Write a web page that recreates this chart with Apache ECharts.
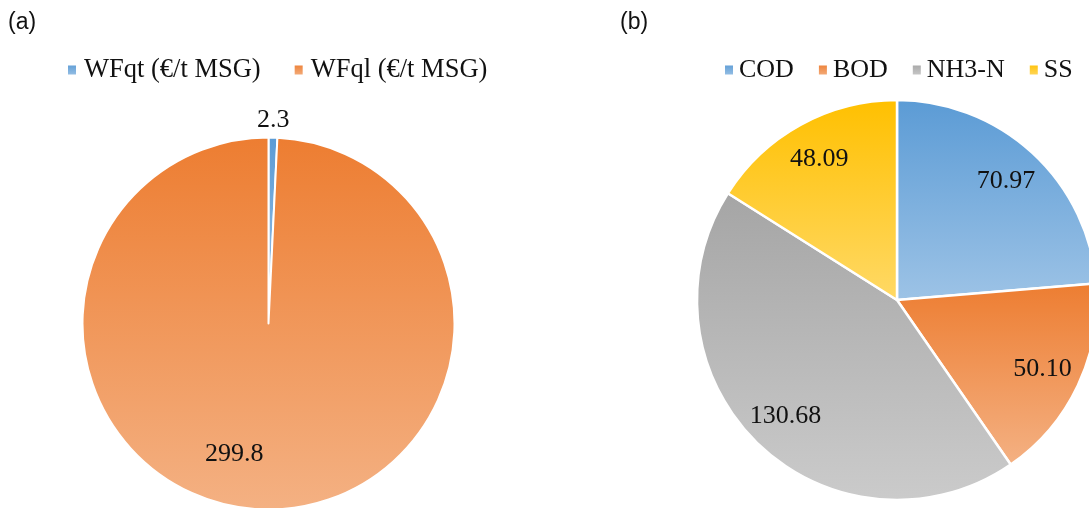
<!DOCTYPE html>
<html>
<head>
<meta charset="utf-8">
<script src="https://cdn.jsdelivr.net/npm/echarts@6/dist/echarts.min.js"></script>
<style>
html,body{margin:0;padding:0;background:#fff;}
#chart{width:1089px;height:508px;}
</style>
</head>
<body>
<div id="chart"></div>
<script>
// ---- data ----
const leftNames = ['WFqt (€/t MSG)', 'WFql (€/t MSG)'];
const leftValues = [2.3, 299.8];
const rightNames = ['COD', 'BOD', 'NH3-N', 'SS'];
const rightValues = [70.97, 50.10, 130.68, 48.09];
const panelLabels = ['(a)', '(b)'];

// ---- styles ----
const leftGrad = [['#5B9BD5', '#9DC3E6'], ['#ED7D31', '#F4B183']];
const rightGrad = [['#5B9BD5', '#9DC3E6'], ['#ED7D31', '#F4B183'], ['#A5A5A5', '#CBCBCB'], ['#FFC000', '#FFD966']];
const serif = 'Liberation Serif';

function grad(c) {
  return { type: 'linear', x: 0, y: 0, x2: 0, y2: 1, colorStops: [{ offset: 0, color: c[0] }, { offset: 1, color: c[1] }] };
}
const labelText = { fontFamily: serif, fontSize: 26, color: '#111' };
const clear = { color: 'rgba(0,0,0,0)', borderWidth: 0 };

const leftMain = leftNames.map((n, i) => ({ name: n, value: leftValues[i], itemStyle: { color: grad(leftGrad[i]) } }));
const rightMain = rightNames.map((n, i) => ({ name: n, value: rightValues[i], itemStyle: { color: grad(rightGrad[i]) } }));

const leftOuterLabels = leftNames.map((n, i) => ({ name: n, value: leftValues[i], label: { show: i === 0 } }));
const leftInnerLabels = leftNames.map((n, i) => ({ name: n, value: leftValues[i], label: { show: i === 1, padding: [0, 62, 0, 0] } }));
const rightLabels = rightNames.map((n, i) => ({ name: n, value: rightValues[i] }));

const basePie = {
  type: 'pie', startAngle: 90, clockwise: true, avoidLabelOverlap: false,
  animation: false, labelLine: { show: false }, emphasis: { disabled: true }
};

const chart = echarts.init(document.getElementById('chart'), null, { renderer: 'canvas' });
chart.setOption({
  backgroundColor: '#fff',
  animation: false,
  title: [
    { text: panelLabels[0], left: 8, top: 11, padding: 0, textStyle: { fontFamily: 'Liberation Sans', fontSize: 23, fontWeight: 'normal', color: '#111' } },
    { text: panelLabels[1], left: 620, top: 11, padding: 0, textStyle: { fontFamily: 'Liberation Sans', fontSize: 23, fontWeight: 'normal', color: '#111' } }
  ],
  legend: [
    { data: leftNames, left: 66, top: 55, padding: 0, itemGap: 32, itemWidth: 10, itemHeight: 11, icon: 'rect', selectedMode: false,
      textStyle: { fontFamily: serif, fontSize: 26.5, color: '#111', lineHeight: 30, padding: [0, 0, 0, 2] } },
    { data: rightNames, left: 723, top: 55, padding: 0, itemGap: 23, itemWidth: 10, itemHeight: 11, icon: 'rect', selectedMode: false,
      textStyle: { fontFamily: serif, fontSize: 26, color: '#111', lineHeight: 30 } }
  ],
  series: [
    Object.assign({}, basePie, { name: 'a', center: [268.5, 323.5], radius: [0, 186], label: { show: false },
      itemStyle: { borderColor: '#fff', borderWidth: 2 }, data: leftMain }),
    Object.assign({}, basePie, { name: 'b', center: [897, 300], radius: [0, 200], label: { show: false },
      itemStyle: { borderColor: '#fff', borderWidth: 2.5 }, data: rightMain }),
    Object.assign({}, basePie, { name: 'aLabOut', silent: true, center: [268.5, 323.5], radius: [186, 214], itemStyle: clear,
      label: Object.assign({ position: 'inside', formatter: p => p.value.toFixed(1) }, labelText), data: leftOuterLabels }),
    Object.assign({}, basePie, { name: 'aLabIn', silent: true, center: [268.5, 323.5], radius: [70, 186], itemStyle: clear,
      label: Object.assign({ position: 'inside', formatter: p => p.value.toFixed(1) }, labelText), data: leftInnerLabels }),
    Object.assign({}, basePie, { name: 'bLab', silent: true, center: [897, 300], radius: [116, 200], itemStyle: clear,
      label: Object.assign({ position: 'inside', formatter: p => p.value.toFixed(2) }, labelText), data: rightLabels })
  ]
});
</script>
</body>
</html>
